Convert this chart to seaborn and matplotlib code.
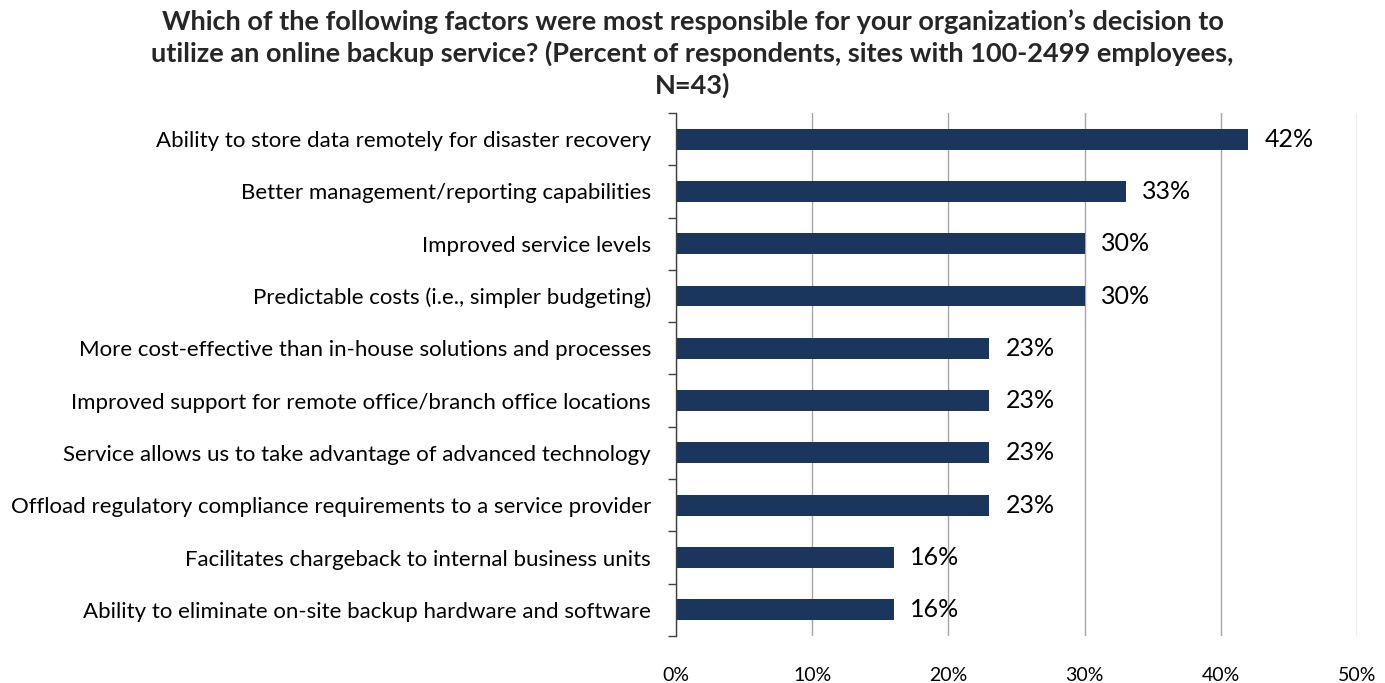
import matplotlib
matplotlib.use("Agg")
import matplotlib.pyplot as plt
import seaborn as sns
import numpy as np
import pandas as pd
from matplotlib.ticker import FixedLocator, PercentFormatter

categories = [
    "Ability to store data remotely for disaster recovery",
    "Better management/reporting capabilities",
    "Improved service levels",
    "Predictable costs (i.e., simpler budgeting)",
    "More cost-effective than in-house solutions and processes",
    "Improved support for remote office/branch office locations",
    "Service allows us to take advantage of advanced technology",
    "Offload regulatory compliance requirements to a service provider",
    "Facilitates chargeback to internal business units",
    "Ability to eliminate on-site backup hardware and software",
]
values = [42, 33, 30, 30, 23, 23, 23, 23, 16, 16]
x_ticks = [0, 10, 20, 30, 40, 50]
title = ("Which of the following factors were most responsible for your organization\u2019s decision to\n"
         "utilize an online backup service? (Percent of respondents, sites with 100-2499 employees,\n"
         "N=43)")

sns.set_theme(style="white")
plt.rcParams['font.family'] = ['Lato', 'DejaVu Sans']

df = pd.DataFrame({"cat": categories, "val": values})
fig = plt.figure(figsize=(13.85, 6.83), dpi=100)
ax = fig.add_axes([0.488, 0.0688, 0.492, 0.7658])

sns.barplot(data=df, x="val", y="cat", color="#1b365d", width=0.4, ax=ax,
            saturation=1, edgecolor="none")

ax.set_xlim(0, 50)
ax.set_ylim(len(categories) - 0.5, -0.5)
ax.xaxis.set_major_locator(FixedLocator(x_ticks))
ax.xaxis.set_major_formatter(PercentFormatter(decimals=0))
ax.grid(axis="x", color="#a6a6a6", linewidth=1)
ax.set_axisbelow(True)
for s in ["top", "right", "bottom"]:
    ax.spines[s].set_visible(False)
ax.spines["left"].set_color("#404040")
ax.spines["left"].set_linewidth(1)

ax.set_yticks(range(len(categories)))
ax.set_yticklabels(categories, fontsize=16, color="black")
ax.yaxis.set_minor_locator(FixedLocator(np.arange(-0.5, len(categories), 1)))
ax.tick_params(axis="y", which="major", length=0, pad=18)
ax.tick_params(axis="y", which="minor", length=6, width=1, color="#404040", left=True)
ax.tick_params(axis="x", length=0, pad=22, labelsize=14, colors="black")
ax.set_xlabel("")
ax.set_ylabel("")

for i, v in enumerate(values):
    ax.text(v + 1.2, i, f"{v}%", va="center", ha="left", fontsize=18, color="black")

fig.suptitle(title, fontsize=19.5, fontweight="bold", y=0.986, x=0.50, linespacing=1.32)
fig.savefig("out.png", dpi=100)
